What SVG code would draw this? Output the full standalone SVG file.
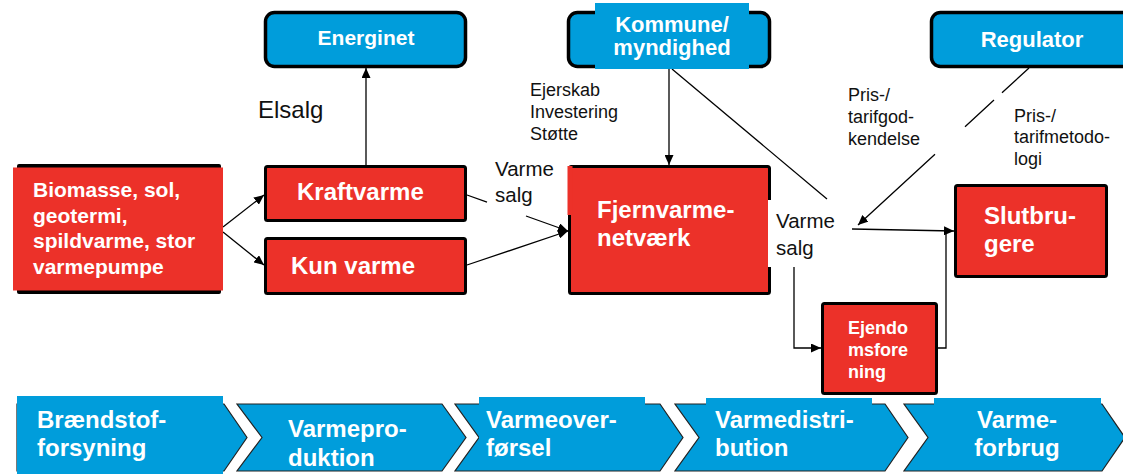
<svg xmlns="http://www.w3.org/2000/svg" width="1123" height="474" viewBox="0 0 1123 474">
  <style>
    text { font-family: "Liberation Sans", Arial, sans-serif; }
    .red { fill: #EC3129; stroke: #000; stroke-width: 3; }
    .blue { fill: #009DDB; stroke: #000; stroke-width: 3.5; }
    .wb { fill: #fff; font-weight: bold; }
    .lbl { fill: #111; }
    .conn { fill: none; stroke: #000; stroke-width: 1.3; }
    .chev { fill: #009DDB; stroke: #222; stroke-width: 1.2; }
    .tb { fill: #009DDB; }
  </style>
  <defs>
    <marker id="arrow" markerUnits="userSpaceOnUse" markerWidth="10" markerHeight="9" refX="10" refY="4.5" orient="auto">
      <path d="M0,0 L10,4.5 L0,9 z" fill="#000"/>
    </marker>
  </defs>

  <!-- value chain band -->
  <g id="chain">
    <path class="chev" d="M17,404 H224 L247,437.5 L224,471 H17 z"/>
    <path class="chev" d="M237,404 H442 L466,437.5 L442,471 H237 L262,437.5 z"/>
    <path class="chev" d="M455,404 H660 L683,437.5 L660,471 H455 L479,437.5 z"/>
    <path class="chev" d="M675,404 H885 L908,437.5 L885,471 H675 L699,437.5 z"/>
    <path class="chev" d="M904,404 H1102 L1125,437.5 L1102,471 H904 L928,437.5 z"/>
    <rect class="tb" x="17" y="396" width="206" height="78"/>
    <rect class="tb" x="479" y="397" width="166" height="73"/>
    <rect class="tb" x="706" y="398" width="166" height="72"/>
    <rect class="tb" x="934" y="398" width="167" height="72"/>
    <g class="wb" font-size="24">
      <text x="37" y="428">Brændstof-</text>
      <text x="37" y="456">forsyning</text>
      <text x="288" y="437">Varmepro-</text>
      <text x="288" y="466">duktion</text>
      <text x="486" y="428">Varmeover-</text>
      <text x="486" y="456">førsel</text>
      <text x="715" y="428">Varmedistri-</text>
      <text x="715" y="456">bution</text>
      <text x="1017" y="428" text-anchor="middle">Varme-</text>
      <text x="1017" y="456" text-anchor="middle">forbrug</text>
    </g>
  </g>

  <!-- connectors -->
  <g id="connectors" class="conn">
    <line x1="366" y1="165" x2="366" y2="68" marker-end="url(#arrow)"/>
    <line x1="223" y1="227" x2="264" y2="195" marker-end="url(#arrow)"/>
    <line x1="223" y1="232" x2="264" y2="265" marker-end="url(#arrow)"/>
    <path d="M467,195 L487,202.1 M526,216 L568,231" marker-end="url(#arrow)"/>
    <line x1="467" y1="265" x2="568" y2="231" marker-end="url(#arrow)"/>
    <line x1="669" y1="69" x2="669" y2="165" marker-end="url(#arrow)"/>
    <line x1="672" y1="69" x2="827" y2="199"/>
    <path d="M1029,68 L1002,92.8 M994,100.1 L965,126.8 M935,154.3 L858,225" marker-end="url(#arrow)"/>
    <line x1="852" y1="229" x2="954" y2="231" marker-end="url(#arrow)"/>
    <path d="M794,267 V348 H821" marker-end="url(#arrow)"/>
    <path d="M938,348 H946 V231"/>
  </g>

  <g id="energinet">
    <rect class="blue" x="265.5" y="12.5" width="200" height="54" rx="9"/>
    <text class="wb" x="366" y="45" font-size="21" text-anchor="middle">Energinet</text>
  </g>

  <g id="kommune">
    <rect class="blue" x="568.5" y="12.5" width="201" height="54" rx="9"/>
    <rect class="tb" x="595" y="3" width="154" height="66"/>
    <text class="wb" x="672" y="32" font-size="22" text-anchor="middle">Kommune/</text>
    <text class="wb" x="672" y="55" font-size="22" text-anchor="middle">myndighed</text>
  </g>

  <g id="regulator">
    <rect class="blue" x="931.5" y="12.5" width="210" height="54" rx="9"/>
    <text class="wb" x="1032" y="47" font-size="22" text-anchor="middle">Regulator</text>
  </g>

  <g id="biomasse">
    <rect x="17" y="164" width="204" height="130" rx="2" fill="#000"/>
    <rect x="13" y="167.5" width="210" height="123" fill="#EC3129"/>
    <g class="wb" font-size="21">
      <text x="33" y="197">Biomasse, sol,</text>
      <text x="33" y="222.5">geotermi,</text>
      <text x="33" y="248">spildvarme, stor</text>
      <text x="33" y="273.5">varmepumpe</text>
    </g>
  </g>

  <g id="kraftvarme">
    <rect class="red" x="265.5" y="166.5" width="200" height="54" rx="2"/>
    <text class="wb" x="297" y="200" font-size="24">Kraftvarme</text>
  </g>

  <g id="kunvarme">
    <rect class="red" x="265.5" y="238.5" width="200" height="55" rx="2"/>
    <text class="wb" x="291" y="274" font-size="24">Kun varme</text>
  </g>

  <g id="fjernvarme">
    <rect class="red" x="569.5" y="166.5" width="200" height="127" rx="2"/>
    <rect x="567.5" y="166" width="5" height="49" fill="#EC3129"/>
    <rect x="768" y="200" width="80" height="67" fill="#fff"/>
    <text class="wb" x="597" y="218" font-size="24">Fjernvarme-</text>
    <text class="wb" x="597" y="246" font-size="24">netværk</text>
  </g>

  <g id="slutbrugere">
    <rect class="red" x="955.5" y="185.5" width="151" height="91" rx="2"/>
    <text class="wb" x="984" y="224" font-size="24">Slutbru-</text>
    <text class="wb" x="984" y="252" font-size="24">gere</text>
  </g>

  <g id="ejendomsforening">
    <rect class="red" x="822.5" y="303.5" width="114" height="90" rx="2"/>
    <g class="wb" font-size="18">
      <text x="848" y="334">Ejendo</text>
      <text x="848" y="356">msfore</text>
      <text x="848" y="378">ning</text>
    </g>
  </g>

  <!-- flow labels -->
  <g id="labels" class="lbl">
    <text x="258" y="118" font-size="24">Elsalg</text>
    <text x="495" y="176" font-size="20.5">Varme</text>
    <text x="495" y="202" font-size="20.5">salg</text>
    <text x="776" y="228" font-size="20.5">Varme</text>
    <text x="776" y="255" font-size="20.5">salg</text>
    <g font-size="18">
      <text x="530" y="96">Ejerskab</text>
      <text x="530" y="118">Investering</text>
      <text x="530" y="140">Støtte</text>
      <text x="848" y="101">Pris-/</text>
      <text x="848" y="123">tarifgod-</text>
      <text x="848" y="145">kendelse</text>
      <text x="1014" y="122">Pris-/</text>
      <text x="1014" y="143">tarifmetodo-</text>
      <text x="1014" y="165">logi</text>
    </g>
  </g>
</svg>
